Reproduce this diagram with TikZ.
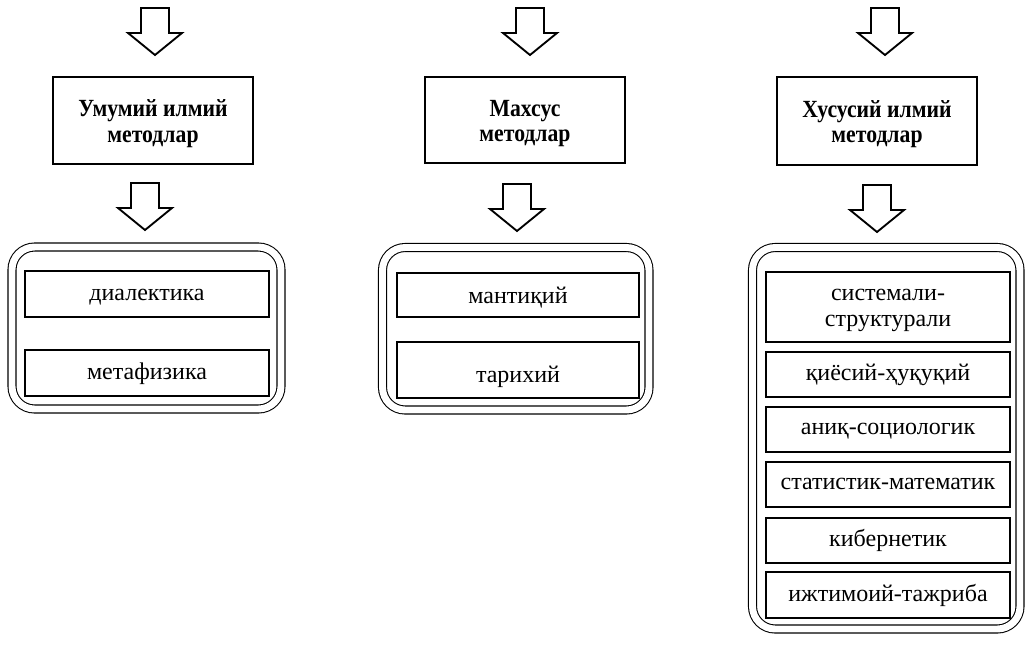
\documentclass[tikz,border=0pt]{standalone}
\usepackage{fontspec}
\setmainfont{Liberation Serif}
\newfontfamily\headfont[FakeStretch=0.88]{Liberation Serif}
\def\pxu{0.75pt}
\newdimen\pxd \pxd=0.75pt
% #1: downward shift of the text in px (box size kept, so the node stays centred)
\newcommand\tx[2][0]{\raisebox{-#1\pxd}[\height][\depth]{\begin{tabular}{@{}c@{}}#2\end{tabular}}}
\tikzset{
  head/.style={draw, line width=1.5pt, minimum width=200*\pxu, inner sep=0pt,
    font=\headfont\bfseries\fontsize{18.5}{19}\selectfont},
  item/.style={draw, line width=0.8pt, inner sep=0pt,
    font=\fontsize{18}{15}\selectfont},
  item2/.style={item, font=\fontsize{18}{19}\selectfont},
  holder/.style={draw, double, line width=0.8pt, double distance=5.2pt, rounded corners=17pt, inner sep=0pt},
  arrowline/.style={draw, line width=1.4pt, line join=miter},
  downarrow/.pic={\path[arrowline] (-14,0) -- (-14,25) -- (-27,25) -- (0,47) -- (27,25) -- (14,25) -- (14,0) -- cycle;}
}
\begin{document}
\begin{tikzpicture}[x=0.75pt,y=-0.75pt]
\useasboundingbox (0,0) rectangle (1030,644);
% containers
\node[holder, minimum width=269*\pxu, minimum height=162*\pxu] (c1) at (146.5,328) {};
\node[holder, minimum width=266.5*\pxu, minimum height=162.5*\pxu] (c2) at (515.75,328.75) {};
\node[holder, minimum width=267.5*\pxu, minimum height=381.5*\pxu] (c3) at (886.25,438.25) {};
% headings
\node[head, minimum height=87*\pxu] (h1) at (153,120.5) {\tx[4]{Умумий илмий\\методлар}};
\node[head, minimum height=86*\pxu] (h2) at (525,120) {\tx[4]{Махсус\\методлар}};
\node[head, minimum height=88*\pxu] (h3) at (877,121) {\tx[4]{Хусусий илмий\\методлар}};
% arrows
\coordinate (a1) at (155,8);
\coordinate (a2) at (530,8);
\coordinate (a3) at (885,8);
\coordinate (d1) at (145,183);
\coordinate (d2) at (517,184);
\coordinate (d3) at (877,185);
\pic at (a1) {downarrow};
\pic at (a2) {downarrow};
\pic at (a3) {downarrow};
\pic at (d1) {downarrow};
\pic at (d2) {downarrow};
\pic at (d3) {downarrow};
% left items
\node[item, minimum width=244*\pxu, minimum height=46*\pxu] (b11) at (147,294) {\tx[2.5]{диалектика}};
\node[item, minimum width=244*\pxu, minimum height=46*\pxu] (b12) at (147,373) {\tx[1]{метафизика}};
% middle items
\node[item, minimum width=242*\pxu, minimum height=44*\pxu] (b21) at (518,295) {\tx[3.5]{мантиқий}};
\node[item, minimum width=242*\pxu, minimum height=56*\pxu] (b22) at (518,370) {\tx[7]{тарихий}};
% right items
\node[item2, minimum width=244*\pxu, minimum height=70*\pxu] (r1) at (888,307) {\tx[1.5]{системали-\\структурали}};
\node[item, minimum width=244*\pxu, minimum height=45*\pxu] (r2) at (888,374.5) {\tx[0.5]{қиёсий-ҳуқуқий}};
\node[item, minimum width=244*\pxu, minimum height=45*\pxu] (r3) at (888,429.5) {\tx[0.5]{аниқ-социологик}};
\node[item, minimum width=244*\pxu, minimum height=45*\pxu] (r4) at (888,484.5) {\tx[0.5]{статистик-математик}};
\node[item, minimum width=244*\pxu, minimum height=45*\pxu] (r5) at (888,540.5) {\tx[0]{кибернетик}};
\node[item, minimum width=244*\pxu, minimum height=46*\pxu] (r6) at (888,595) {\tx[0.5]{ижтимоий-тажриба}};
\end{tikzpicture}
\end{document}
